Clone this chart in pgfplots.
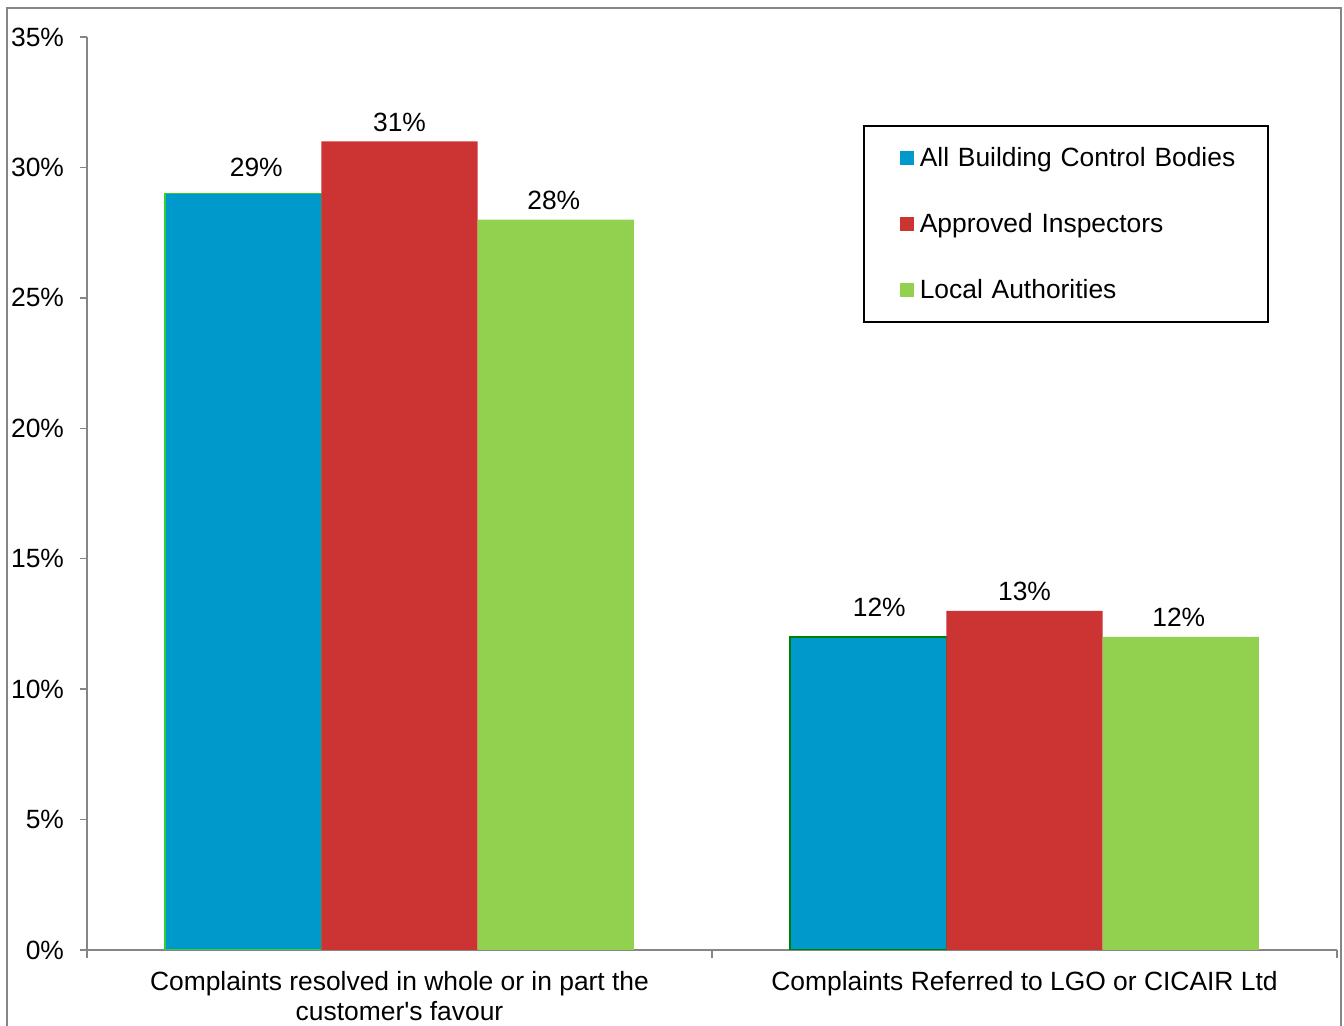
\documentclass[border=0pt]{standalone}
\usepackage{fontspec}
\setmainfont{Liberation Sans}
\usepackage{pgfplots}
\pgfplotsset{compat=1.18}

\definecolor{abcb}{RGB}{0,153,204}
\definecolor{apins}{RGB}{204,51,51}
\definecolor{locauth}{RGB}{146,208,80}
\definecolor{edgelight}{RGB}{51,204,51}
\definecolor{edgedark}{RGB}{0,128,0}
\definecolor{axisgray}{RGB}{134,134,134}

\begin{document}
\begin{tikzpicture}[font=\fontsize{13.2}{15}\selectfont]
\useasboundingbox (0,0) rectangle (672pt,513pt);
% chart frame
\draw[axisgray, line width=0.75pt] (3.5pt,0pt) -- (3.5pt,509pt) -- (670.5pt,509pt) -- (670.5pt,0pt);
\begin{axis}[
  at={(43.5pt,38pt)}, anchor=south west,
  scale only axis, width=625pt, height=456.5pt,
  xmin=-0.5, xmax=1.5, ymin=0, ymax=35,
  axis x line*=bottom, axis y line*=left,
  axis line style={axisgray, line width=0.75pt},
  ybar=0pt, bar width=0.25,
  ytick={0,5,...,35},
  yticklabel={\pgfmathprintnumber{\tick}\%},
  /pgf/number format/assume math mode=true,
  ytick style={axisgray, line width=0.75pt},
  major tick length=3.5pt,
  tick align=outside,
  yticklabel style={xshift=-4.5pt},
  xtick={0,1},
  major x tick style={draw=none},
  xticklabels={{Complaints resolved in whole or in part the\\customer\textquotesingle s favour},{Complaints Referred to LGO or CICAIR Ltd}},
  xticklabel style={align=center, yshift=-3.5pt},
  minor xtick={-0.5,0.5,1.5},
  minor x tick style={axisgray, line width=0.75pt},
  minor tick length=4pt,
  legend style={
    at={(0.6208,0.9036)}, anchor=north west,
    draw=black, line width=0.8pt,
    inner xsep=18pt, inner ysep=10pt,
    row sep=21pt, column sep=3pt,
    nodes={inner sep=0pt, text height=10.5pt, text depth=1.5pt},
    /tikz/column 2/.style={text width=156pt, align=left},
    font=\fontsize{13.2}{15}\selectfont,
  },
  legend cell align=left,
  legend image code/.code={\fill[#1, draw=none] (0pt,-3.5pt) rectangle (7pt,3.5pt);},
]
% All Building Control Bodies
\addplot+[bar shift=-0.25, fill=abcb, draw=edgelight, line width=0.75pt,
  nodes near coords={\pgfmathprintnumber{\pgfplotspointmeta}\%},
  every node near coord/.append style={text=black, yshift=4.5pt, xshift=6.5pt}]
  coordinates {(0,29)};
\addlegendentry{\mbox{All Building Control Bodies}}
\addplot+[bar shift=-0.25, fill=abcb, draw=edgedark, line width=0.75pt, forget plot,
  nodes near coords={\pgfmathprintnumber{\pgfplotspointmeta}\%},
  every node near coord/.append style={text=black, yshift=6.5pt, xshift=5.5pt}]
  coordinates {(1,12)};
% Approved Inspectors
\addplot+[bar shift=0, fill=apins, draw=none,
  nodes near coords={\pgfmathprintnumber{\pgfplotspointmeta}\%},
  every node near coord/.append style={text=black, yshift=1.5pt}]
  coordinates {(0,31) (1,13)};
\addlegendentry{\mbox{Approved Inspectors}}
% Local Authorities
\addplot+[bar shift=0.25, fill=locauth, draw=none,
  nodes near coords={\pgfmathprintnumber{\pgfplotspointmeta}\%},
  every node near coord/.append style={text=black, yshift=1.5pt, xshift=-1pt}]
  coordinates {(0,28) (1,12)};
\addlegendentry{\mbox{Local Authorities}}
\end{axis}
\end{tikzpicture}
\end{document}
